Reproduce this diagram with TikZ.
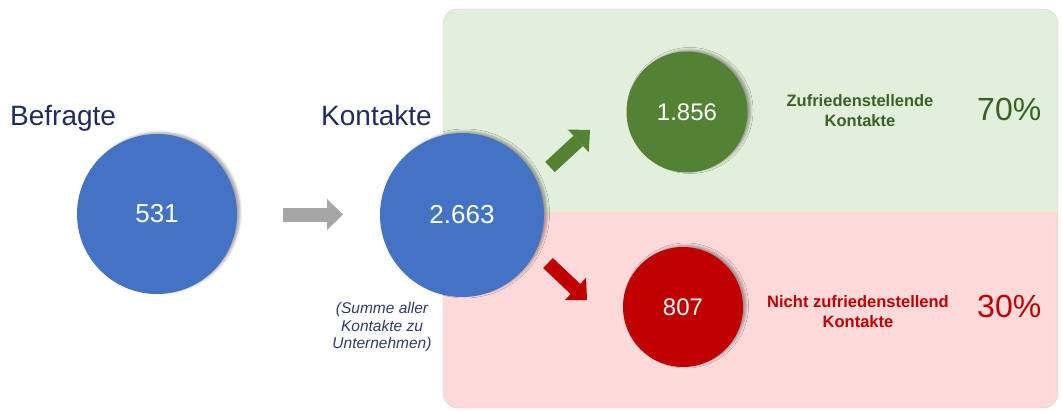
\documentclass[tikz,border=0pt]{standalone}
\usepackage{fontspec}
\setmainfont{Liberation Sans}
\usetikzlibrary{arrows.meta,shadows.blur}

\definecolor{blau}{HTML}{4472C4}
\definecolor{verd}{HTML}{548235}
\definecolor{verdfosc}{HTML}{3B6026}
\definecolor{vermell}{HTML}{C00000}
\definecolor{fonsverd}{HTML}{E2EFDA}
\definecolor{fonsrosa}{HTML}{FDD9D9}
\definecolor{gris}{HTML}{A6A6A6}
\definecolor{marina}{HTML}{1F2C5E}
\definecolor{nota}{HTML}{2F3B68}

\begin{document}
\begin{tikzpicture}[x=1pt,y=-1pt,
	bola/.style={circle,inner sep=0pt,text=white,
		blur shadow={shadow xshift=3pt,shadow yshift=1.5pt,shadow blur radius=2.5pt,shadow opacity=35}},
	fletxa/.style={line width=14pt,-{Triangle[width=31pt,length=16pt,line width=0pt]}},
	titol/.style={anchor=base west,inner sep=0pt,text=marina,font=\fontsize{28}{30}\selectfont},
	etiq/.style={align=center,inner sep=0pt,font=\bfseries\fontsize{16.5}{20}\selectfont},
	perc/.style={anchor=base west,inner sep=0pt,font=\fontsize{32}{34}\selectfont}]

	\useasboundingbox (0,0) rectangle (1062,410);

	% Panell
	\begin{scope}
		\clip[rounded corners=15pt] (443,9) rectangle (1058,408);
		\fill[fonsverd] (443,9) rectangle (1058,212);
		\fill[fonsrosa] (443,212) rectangle (1058,408);
	\end{scope}
	\draw[black!18,rounded corners=15pt] (443,9) rectangle (1058,408);

	% Titols
	\node[titol] (tB) at (10,125) {Befragte};
	\node[titol] (tK) at (321,125) {Kontakte};

	% Cercles
	\node[bola,fill=blau,minimum size=160pt,font=\fontsize{26}{28}\selectfont] (B) at (157,214) {531};
	\node[bola,fill=blau,minimum size=164pt,font=\fontsize{26}{28}\selectfont] (K) at (462,215) {2.663};
	\node[bola,fill=verd,minimum size=121pt,font=\fontsize{24}{26}\selectfont] (Z) at (687,112) {1.856};
	\node[bola,fill=vermell,minimum size=120pt,font=\fontsize{24}{26}\selectfont] (N) at (683,307) {807};

	\node[align=center,inner sep=0pt,text=nota,font=\itshape\fontsize{15.5}{17.5}\selectfont] (nK) at (382,327) {(Summe aller\\Kontakte zu\\Unternehmen)};

	% Fletxes
	\coordinate (Ga) at (283,214.5);
	\coordinate (Gb) at (343,214.5);
	\coordinate (Za) at (550,167);
	\coordinate (Zb) at (590,130);
	\coordinate (Na) at (548,263);
	\coordinate (Nb) at (587,300);

	\draw[fletxa,gris] (Ga) -- (Gb);
	\draw[fletxa,verd] (Za) -- (Zb);
	\draw[fletxa,vermell] (Na) -- (Nb);

	% Etiquetes
	\node[etiq,text=verdfosc] (tZ) at (860,111) {Zufriedenstellende\\Kontakte};
	\node[etiq,text=vermell] (tN) at (858,312) {Nicht zufriedenstellend\\Kontakte};

	\node[perc,text=verdfosc] (pZ) at (977,120) {70\%};
	\node[perc,text=vermell] (pN) at (977,317) {30\%};

\end{tikzpicture}
\end{document}
